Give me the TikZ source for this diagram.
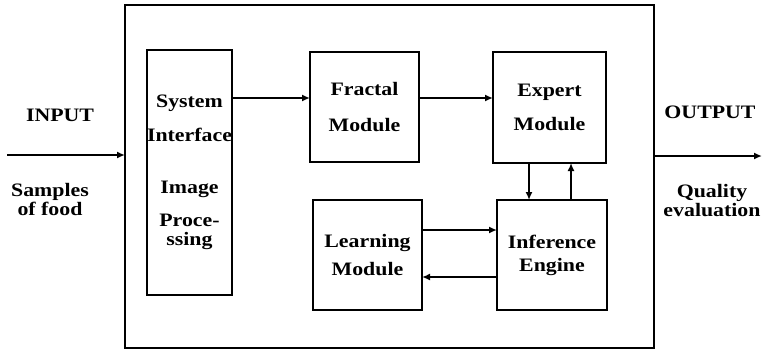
\documentclass[tikz,border=0pt]{standalone}
\usepackage{fontspec}
\setmainfont[FakeStretch=1.15]{Liberation Serif}
\usetikzlibrary{arrows.meta}

\tikzset{
  block/.style = {draw, line width = 2.4pt, inner sep = 0pt, outer sep = 0pt,
                  align = center, font = \bfseries\fontsize{19}{22}\selectfont},
  label/.style = {align = center, font = \bfseries\fontsize{19}{22}\selectfont},
  arr/.style = {line width = 2.2pt, -{Latex[length = 8pt, width = 7pt]}}
}

\begin{document}
\begin{tikzpicture}[x = 1pt, y = -1pt]

\useasboundingbox (0, 0) rectangle (768, 351);

% outer system box
\node[block, line width = 2.8pt, minimum width = 529pt, minimum height = 343pt] (sys) at (389.5, 176.5) {};

% modules
\node[block, minimum width = 85pt, minimum height = 245pt] (iface) at (189.5, 172.5)
  {System\\[12pt] Interface\\[30pt] Image\\[11pt] Proce-\\[-3pt] ssing};
\node[block, minimum width = 109pt, minimum height = 110pt] (fractal) at (364.5, 107)
  {Fractal\\[14pt] Module};
\node[block, minimum width = 113pt, minimum height = 111pt] (expert) at (549.5, 107.5)
  {Expert\\[12pt] Module};
\node[block, minimum width = 109pt, minimum height = 110pt] (learning) at (367.5, 255)
  {Learning\\[6pt] Module};
\node[block, minimum width = 110pt, minimum height = 110pt] (inference) at (552, 255)
  {Inference\\[1pt] Engine};

% input and output
\coordinate (in) at (7, 155);
\coordinate (out) at (762, 156);
\node[label] (inputlbl) at (60, 115) {INPUT};
\node[label] (samples) at (50, 199) {Samples\\[-3pt] of food};
\node[label] (outputlbl) at (710, 112) {OUTPUT};
\node[label] (quality) at (712, 201) {Quality\\[-3pt] evaluation};

\draw[arr] (in) -- (in -| sys.west);
\draw[arr] (sys.east |- out) -- (out);

% connections
\coordinate (top) at ([yshift = 9pt]fractal.west);
\draw[arr] (top -| iface.east) -- (top);
\draw[arr] (top -| fractal.east) -- (top -| expert.west);

\coordinate (fwd) at ([yshift = 25pt]inference.west);
\coordinate (back) at ([yshift = -22pt]inference.west);
\draw[arr] (fwd -| learning.east) -- (fwd);
\draw[arr] (back) -- (back -| learning.east);

\coordinate (dn) at ([xshift = -23pt]inference.north);
\coordinate (up) at ([xshift = 19pt]inference.north);
\draw[arr] (dn |- expert.south) -- (dn);
\draw[arr] (up) -- (up |- expert.south);

\end{tikzpicture}
\end{document}
